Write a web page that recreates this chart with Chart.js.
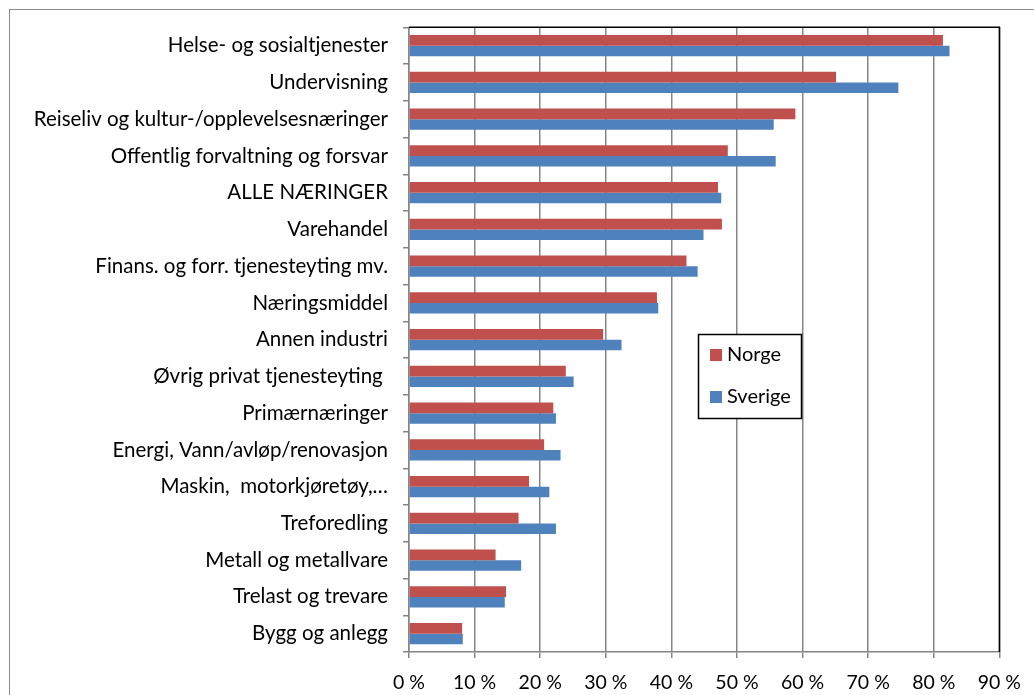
<!DOCTYPE html>
<html>
<head>
<meta charset="utf-8">
<script src="https://cdn.jsdelivr.net/npm/chart.js@4.4.0/dist/chart.umd.min.js"></script>
<style>
  html, body { margin: 0; padding: 0; background: #fff; }
  #wrap { width: 1034px; height: 695px; position: relative; }
</style>
</head>
<body>
<div id="wrap"><canvas id="chart" width="1034" height="695"></canvas></div>
<script>
// kategorier, ovenfra og ned
const naeringer = [
  "Helse- og sosialtjenester",
  "Undervisning",
  "Reiseliv og kultur-/opplevelsesnæringer",
  "Offentlig forvaltning og forsvar",
  "ALLE NÆRINGER",
  "Varehandel",
  "Finans. og forr. tjenesteyting mv.",
  "Næringsmiddel",
  "Annen industri",
  "Øvrig privat tjenesteyting ",
  "Primærnæringer",
  "Energi, Vann/avløp/renovasjon",
  "Maskin,  motorkjøretøy,…",
  "Treforedling",
  "Metall og metallvare",
  "Trelast og trevare",
  "Bygg og anlegg"
];
const norge = [81.4, 65.1, 58.9, 48.6, 47.1, 47.7, 42.3, 37.8, 29.6, 23.9, 22.0, 20.6, 18.3, 16.7, 13.2, 14.8, 8.1];
const sverige = [82.4, 74.6, 55.6, 55.9, 47.6, 44.9, 44.0, 38.0, 32.4, 25.1, 22.4, 23.1, 21.4, 22.4, 17.1, 14.6, 8.2];
const xTicks = [0, 10, 20, 30, 40, 50, 60, 70, 80, 90];

const fontFam = "Lato, 'Open Sans', sans-serif";
const grå = "#858585";

// ramme rundt hele diagrammet + plott-ramme topp/høyre
const rammePlugin = {
  id: "ramme",
  beforeDraw(chart) {
    const c = chart.ctx;
    c.save();
    c.fillStyle = "#fff";
    c.fillRect(0, 0, chart.width, chart.height);
    c.strokeStyle = "#8c8c8c";
    c.lineWidth = 1;
    c.strokeRect(9.5, 9.5, 1200, 1000);
    c.restore();
  },
  afterDraw(chart) {
    const a = chart.chartArea;
    const c = chart.ctx;
    c.save();
    c.strokeStyle = "#000";
    c.lineWidth = 1.5;
    c.beginPath();
    c.moveTo(a.left, a.top);
    c.lineTo(a.right, a.top);
    c.lineTo(a.right, a.bottom);
    c.stroke();
    c.restore();
  }
};

// forklaring inne i plottet
const forklaringPlugin = {
  id: "forklaring",
  afterDraw(chart) {
    const c = chart.ctx;
    const x = 698, y = 334, w = 103, h = 84;
    c.save();
    c.fillStyle = "#fff";
    c.fillRect(x, y, w, h);
    c.strokeStyle = "#000";
    c.lineWidth = 1.5;
    c.strokeRect(x + 0.5, y + 0.5, w, h);
    c.font = "20px " + fontFam;
    c.textBaseline = "middle";
    c.textAlign = "left";
    chart.data.datasets.forEach((ds, i) => {
      const cy = i === 0 ? 355 : 397;
      c.fillStyle = ds.backgroundColor;
      c.fillRect(710, cy - 6, 12, 12);
      c.fillStyle = "#000";
      c.fillText(ds.label, 727, cy);
    });
    c.restore();
  }
};

const data = {
  labels: naeringer,
  datasets: [
    { label: "Norge", data: norge, backgroundColor: "#C0504D", borderWidth: 0 },
    { label: "Sverige", data: sverige, backgroundColor: "#4F81BD", borderWidth: 0 }
  ]
};

const config = {
  type: "bar",
  data: data,
  options: {
    indexAxis: "y",
    responsive: false,
    animation: false,
    layout: { padding: { top: 23, right: 33, left: 0, bottom: 0 } },
    datasets: { bar: { categoryPercentage: 0.58, barPercentage: 1.0 } },
    plugins: { legend: { display: false }, tooltip: { enabled: false } },
    scales: {
      x: {
        min: 0,
        max: 90,
        afterBuildTicks: (s) => { s.ticks = xTicks.map(v => ({ value: v })); },
        afterFit: (s) => { s.height = 43; },
        grid: { color: grå, lineWidth: 1.5, tickLength: 6 },
        border: { color: grå, width: 1.5 },
        ticks: {
          color: "#000",
          padding: 13,
          font: { family: fontFam, size: 19.5 },
          callback: (v) => v + " %"
        }
      },
      y: {
        afterFit: (s) => { s.width = 409; },
        grid: { display: true, drawOnChartArea: false, offset: true, color: grå, lineWidth: 1.5, tickLength: 6 },
        border: { color: grå, width: 1.5 },
        ticks: {
          color: "#000",
          padding: 15,
          autoSkip: false,
          font: { family: fontFam, size: 20.5 }
        }
      }
    }
  },
  plugins: [rammePlugin, forklaringPlugin]
};

const chart = new Chart(document.getElementById("chart"), config);
</script>
</body>
</html>
